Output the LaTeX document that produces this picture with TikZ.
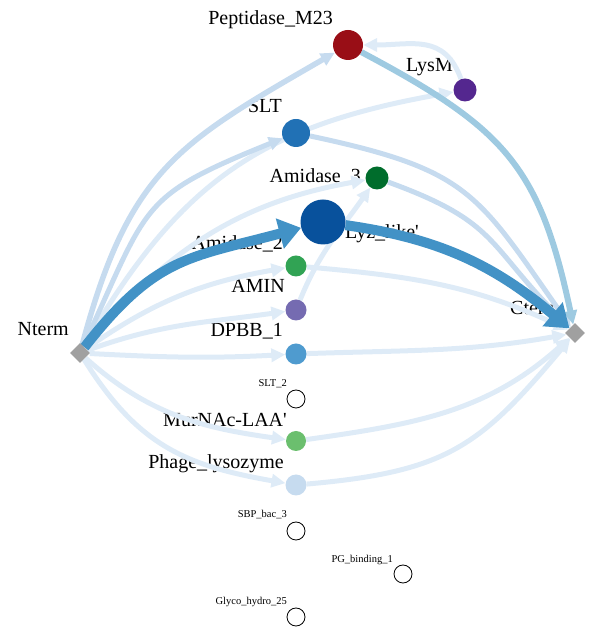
\documentclass[tikz,border=0pt]{standalone}
\usepackage{fontspec}
\setmainfont{Liberation Serif}
\newfontfamily\labfont{Liberation Serif}
\usetikzlibrary{arrows.meta,shapes.geometric,backgrounds}
\definecolor{edgelight}{HTML}{DEEBF7}
\definecolor{edgemid}{HTML}{C6DBEF}
\definecolor{edgepep}{HTML}{9ECAE1}
\definecolor{edgethick}{HTML}{4292C6}
\definecolor{termgray}{HTML}{A0A0A0}
\definecolor{pepred}{RGB}{153,14,22}
\definecolor{lysmpurple}{HTML}{54278F}
\definecolor{sltblue}{HTML}{2171B5}
\definecolor{amithreegreen}{HTML}{006D2C}
\definecolor{lyzblue}{HTML}{08519C}
\definecolor{amitwogreen}{HTML}{31A354}
\definecolor{aminpurple}{HTML}{756BB1}
\definecolor{dpbbblue}{HTML}{4F9BCF}
\definecolor{murnacgreen}{HTML}{6BBF6E}
\definecolor{phageblue}{HTML}{C6DBEF}

\begin{document}
\begin{tikzpicture}[x=1pt, y=1pt,
    dom/.style={circle, inner sep=0pt, minimum size=#1},
    dom/.default=21pt,
    absent/.style={circle, draw=black, line width=0.8pt, inner sep=0pt, minimum size=18pt},
    term/.style={diamond, fill=termgray, inner sep=0pt, minimum width=20pt, minimum height=20pt},
    lab/.style={font=\labfont\fontsize{20}{24}\selectfont, inner sep=0pt},
    smalllab/.style={font=\labfont\fontsize{10.5}{12}\selectfont, inner sep=0pt},
    flow/.style={line width=5pt, color=edgelight, -{Triangle[length=14pt,width=13pt]}},
    flowbig/.style={line width=10pt, color=edgethick, -{Triangle[length=22pt,width=30pt]}}
  ]
  \useasboundingbox (0,0) rectangle (590,631);

  \node[term] (nterm) at (80,278) {};
  \node[term] (cterm) at (575,298) {};
  \node[dom=30pt, fill=pepred] (pep) at (348,586) {};
  \node[dom=23pt, fill=lysmpurple] (lysm) at (465,541) {};
  \node[dom=28pt, fill=sltblue] (slt) at (296,498) {};
  \node[dom=23pt, fill=amithreegreen] (ami3) at (377,453) {};
  \node[dom=45pt, fill=lyzblue] (lyz) at (323,409) {};
  \node[dom, fill=amitwogreen] (ami2) at (296,365) {};
  \node[dom, fill=aminpurple] (amin) at (296,321) {};
  \node[dom, fill=dpbbblue] (dpbb) at (296,277) {};
  \node[absent] (slt2) at (296,232) {};
  \node[dom=20pt, fill=murnacgreen] (murnac) at (296,190) {};
  \node[dom, fill=phageblue] (phage) at (296,146) {};
  \node[absent] (sbp) at (296,100) {};
  \node[absent] (pgb) at (403,57) {};
  \node[absent] (glyco) at (296,14) {};

  \begin{pgfonlayer}{background}
    \node[lab, anchor=base east] (ntermname) at (69,295) {Nterm};
    \node[lab, anchor=base west] (ctermname) at (510,316) {Cterm};
    \node[lab, anchor=base east] (pepname) at (333,606) {Peptidase\_M23};
    \node[lab, anchor=base east] (lysmname) at (453,559) {LysM};
    \node[lab, anchor=base east] (sltname) at (282,518) {SLT};
    \node[lab, anchor=base east] (ami3name) at (361,448) {Amidase\_3};
    \node[lab, anchor=base west] (lyzname) at (345,392) {Lyz\_like'};
    \node[lab, anchor=base east] (ami2name) at (283,381) {Amidase\_2};
    \node[lab, anchor=base east] (aminname) at (285,338) {AMIN};
    \node[lab, anchor=base east] (dpbbname) at (283,294) {DPBB\_1};
    \node[smalllab, anchor=base east] (slt2name) at (287,244) {SLT\_2};
    \node[lab, anchor=base east] (murnacname) at (287,204) {MurNAc-LAA'};
    \node[lab, anchor=base east] (phagename) at (284,162) {Phage\_lysozyme};
    \node[smalllab, anchor=base east] (sbpname) at (287,113) {SBP\_bac\_3};
    \node[smalllab, anchor=base east] (pgbname) at (393,68) {PG\_binding\_1};
    \node[smalllab, anchor=base east] (glyconame) at (287,26) {Glyco\_hydro\_25};

    \draw[flow, edgemid, line width=5.5pt] (nterm) to[out=75, in=210, looseness=1.2] (pep);
    \draw[flow] (nterm) to[out=60, in=190, looseness=1.1] (lysm);
    \draw[flow, edgemid] (nterm) to[out=65, in=202, looseness=1.4] (slt);
    \draw[flow] (nterm) to[out=50, in=190] (ami3);
    \draw[flow] (nterm) to[out=35, in=190] (ami2);
    \draw[flow] (nterm) to[out=20, in=188] (amin);
    \draw[flow] (nterm) to[out=-3, in=183] (dpbb);
    \draw[flow] (nterm) to[out=-42, in=172] (murnac);
    \draw[flow] (nterm) to[out=-58, in=170, looseness=1.1] (phage);
    \draw[flow] (lysm) to[out=110, in=0, looseness=1.2] (pep);
    \draw[flow] (amin) to[out=68, in=235] (ami3);
    \draw[flow, edgemid] (slt) to[out=-12, in=125, looseness=1.3] (cterm);
    \draw[flow, edgemid] (ami3) to[out=-20, in=135, looseness=1.3] (cterm);
    \draw[flow] (ami2) to[out=-5, in=155] (cterm);
    \draw[flow] (dpbb) to[out=2, in=190] (cterm);
    \draw[flow] (murnac) to[out=8, in=222] (cterm);
    \draw[flow] (phage) to[out=5, in=230, looseness=1.2] (cterm);
    \draw[flow, edgepep, line width=6pt] (pep) to[out=-28, in=102, looseness=1.2] (cterm);
    \draw[flowbig] (nterm) to[out=52, in=195, looseness=1.2] (lyz);
    \draw[flowbig] (lyz) to[out=-8, in=140] (cterm);
  \end{pgfonlayer}
\end{tikzpicture}
\end{document}
